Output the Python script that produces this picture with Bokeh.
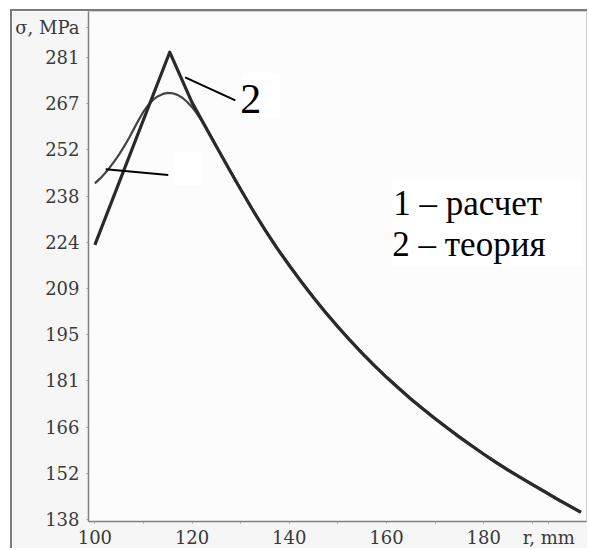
from bokeh.plotting import figure
from bokeh.models import (Range1d, FixedTicker, CustomJSTickFormatter, Label,
                          BoxAnnotation)
from bokeh.embed import file_html
from bokeh.resources import INLINE

# ---- data ----
r_theory = [100, 115.4, 117.5, 120, 122.5, 125, 127.5, 130, 132.5, 135, 137.5,
            140, 142.5, 145, 147.5, 150, 152.5, 155, 157.5, 160, 162.5, 165,
            167.5, 170, 172.5, 175, 177.5, 180, 182.5, 185, 187.5, 190, 192.5,
            195, 197.5, 200]
s_theory = [223, 282.6, 275.5, 267, 260.2, 253.4, 246.7, 240.1, 233.7, 227.6,
            221.9, 216.6, 211.5, 206.6, 202.0, 197.6, 193.4, 189.4, 185.6,
            182.0, 178.6, 175.3, 172.2, 169.2, 166.3, 163.5, 160.8, 158.2,
            155.7, 153.3, 151.0, 148.8, 146.6, 144.4, 142.3, 140.2]

r_calc = [100, 101, 102, 103, 104, 105, 106, 107, 108, 109, 110, 111, 112,
          113, 114, 115, 116, 117, 118, 119, 120, 121, 122, 122.5, 125, 127.5,
          130, 132.5, 135, 137.5, 140, 142.5, 145, 147.5, 150, 152.5, 155,
          157.5, 160, 162.5, 165, 167.5, 170, 172.5, 175, 177.5, 180, 182.5,
          185, 187.5, 190, 192.5, 195, 197.5, 200]
s_calc = [242, 243.4, 245.0, 246.8, 248.8, 251.0, 253.4, 256.0, 258.8, 261.6,
          264.2, 266.3, 267.9, 269.0, 269.7, 270.0, 269.9, 269.4, 268.5, 267.2,
          265.6, 263.6, 261.4, 260.3, 253.6, 246.9, 240.3, 233.9, 227.8,
          222.1, 216.8, 211.7, 206.8, 202.2, 197.8, 193.6, 189.6, 185.8,
          182.2, 178.8, 175.5, 172.4, 169.4, 166.5, 163.7, 161.0, 158.4,
          155.9, 153.5, 151.2, 149.0, 146.8, 144.6, 142.5, 140.4]

y_tick_values = [138.0, 152.3, 166.6, 180.9, 195.2, 209.5, 223.8, 238.1,
                 252.4, 266.7, 281.0]
y_tick_labels = ["138", "152", "166", "181", "195", "209", "224", "238",
                 "252", "267", "281"]
y_axis_name = "σ, MPa"

x_tick_values = [100, 120, 140, 160, 180]
x_tick_labels = ["100", "120", "140", "160", "180"]
x_minor = [110, 130, 150, 170, 190]
x_axis_name = "r, mm"

legend_lines = ["1 – расчет", "2 – теория"]

# ---- figure ----
p = figure(width=577, height=539, output_backend="svg", toolbar_location=None,
           x_range=Range1d(98.69, 201.15), y_range=Range1d(137.38, 295.2),
           min_border_left=74, min_border_right=3, min_border_top=0,
           min_border_bottom=27)
p.margin = (9, 0, 0, 10)
p.styles = {"border-top": "2px solid #7a7a7a", "border-left": "2px solid #7a7a7a"}

p.background_fill_color = "#fcfcfc"
p.border_fill_color = "#f6f6f6"
p.outline_line_color = "#cfcfcf"
p.grid.visible = False

# y axis
yt = y_tick_values + [290.2]
yl = y_tick_labels + [y_axis_name]
p.yaxis.ticker = FixedTicker(ticks=yt, minor_ticks=[])
p.yaxis.formatter = CustomJSTickFormatter(args=dict(vals=yt, labs=yl), code="""
const i = vals.findIndex(v => Math.abs(v - tick) < 1e-6);
return i >= 0 ? labs[i] : "";
""")
# x axis
xt = x_tick_values + [193.4]
xl = x_tick_labels + [x_axis_name]
p.xaxis.ticker = FixedTicker(ticks=xt, minor_ticks=x_minor)
p.xaxis.formatter = CustomJSTickFormatter(args=dict(vals=xt, labs=xl), code="""
const i = vals.findIndex(v => Math.abs(v - tick) < 1e-6);
return i >= 0 ? labs[i] : "";
""")

for ax in (p.xaxis[0], p.yaxis[0]):
    ax.axis_line_color = "#808080"
    ax.axis_line_width = 1.5
    ax.major_tick_line_color = "#999999"
    ax.minor_tick_line_color = "#999999"
    ax.major_tick_in = 0
    ax.major_tick_out = 2
    ax.minor_tick_in = 0
    ax.minor_tick_out = 2
    ax.major_label_text_font = "DejaVu Serif"
    ax.major_label_text_font_size = "18px"
    ax.major_label_text_color = "#3a3a3a"
p.yaxis.major_label_standoff = 7
p.xaxis.major_label_standoff = 3

# curves
p.line(r_calc, s_calc, line_color="#444444", line_width=2.2, line_join="round")
p.line(r_theory, s_theory, line_color="#2a2a2a", line_width=3.2, line_join="round")

# white boxes behind labels
p.add_layout(BoxAnnotation(left=130.25, right=138.0, top=276.1, bottom=262.2,
                           fill_color="white", fill_alpha=1, line_alpha=0))
p.add_layout(BoxAnnotation(left=116.3, right=122.05, top=251.7, bottom=241.5,
                           fill_color="white", fill_alpha=1, line_alpha=0))
p.add_layout(BoxAnnotation(left=161.2, right=200.3, top=244.0, bottom=216.3,
                           fill_color="white", fill_alpha=1, line_alpha=0))

# leader lines
p.segment(x0=[118.57, 102.23], y0=[274.8, 246.4], x1=[128.9, 115.1],
          y1=[267.7, 244.6], line_color="black", line_width=2)

p.add_layout(Label(x=129.9, y=268.2, text="2", text_font="Liberation Serif",
                   text_font_size="42px", text_color="black",
                   text_baseline="alphabetic"))
p.add_layout(Label(x=161.4, y=235.8, text=legend_lines[0],
                   text_font="Liberation Serif", text_font_size="35px",
                   text_color="black", text_baseline="alphabetic"))
p.add_layout(Label(x=161.2, y=223.1, text=legend_lines[1],
                   text_font="Liberation Serif", text_font_size="35px",
                   text_color="black", text_baseline="alphabetic"))

open("out.html", "w").write(file_html(p, INLINE))
